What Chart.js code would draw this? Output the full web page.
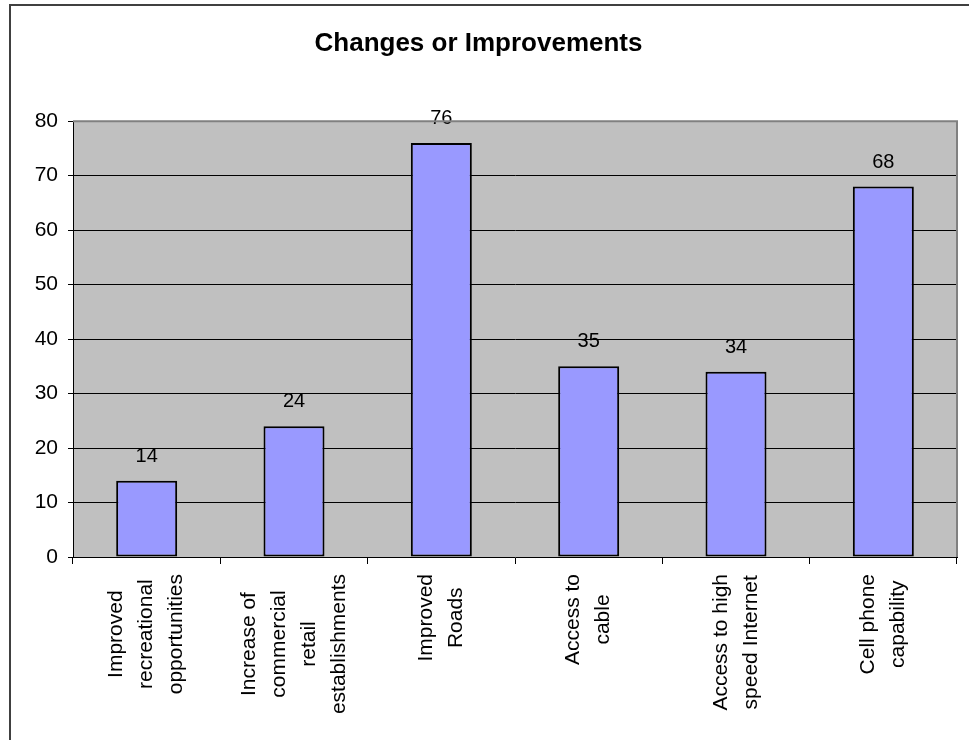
<!DOCTYPE html>
<html>
<head>
<meta charset="utf-8">
<script src="https://cdn.jsdelivr.net/npm/chart.js@4"></script>
<style>
  html, body { margin: 0; padding: 0; background: #fff; }
  #wrap { position: relative; width: 969px; height: 740px; }
</style>
</head>
<body>
<div id="wrap"><canvas id="myChart" width="969" height="740"></canvas></div>
<script>
// Data
const categories = [
    ['Improved', 'recreational', 'opportunities'],
    ['Increase of', 'commercial', 'retail', 'establishments'],
    ['Improved', 'Roads'],
    ['Access to', 'cable'],
    ['Access to high', 'speed Internet'],
    ['Cell phone', 'capability']
];
const values = [14, 24, 76, 35, 34, 68];
const yTicks = { min: 0, max: 80, step: 10 };

const FONT = "'Liberation Sans', Arial, sans-serif";

// outer frame + grey plot background
const framePlugin = {
    id: 'frame',
    beforeDraw(chart) {
        const c = chart.ctx;
        const a = chart.chartArea;
        c.save();
        c.fillStyle = '#fff';
        c.fillRect(0, 0, chart.width, chart.height);
        c.strokeStyle = '#404040';
        c.lineWidth = 2;
        c.beginPath();
        c.moveTo(10, chart.height);
        c.lineTo(10, 5);
        c.lineTo(chart.width, 5);
        c.stroke();
        c.fillStyle = '#c0c0c0';
        c.fillRect(a.left, a.top, a.right - a.left, a.bottom - a.top);
        c.restore();
    },
    afterDraw(chart) {
        const c = chart.ctx;
        const a = chart.chartArea;
        c.save();
        c.strokeStyle = '#808080';
        c.lineWidth = 2;
        c.beginPath();
        c.moveTo(a.left, a.top);
        c.lineTo(a.right, a.top);
        c.lineTo(a.right, a.bottom);
        c.stroke();
        c.restore();
    }
};

// value labels above bars
const valueLabels = {
    id: 'valueLabels',
    afterDatasetsDraw(chart) {
        const c = chart.ctx;
        const meta = chart.getDatasetMeta(0);
        c.save();
        c.font = '20px ' + FONT;
        c.fillStyle = '#000';
        c.textAlign = 'center';
        c.textBaseline = 'alphabetic';
        meta.data.forEach((bar, i) => {
            c.fillText(String(values[i]), bar.x, bar.y - 19);
        });
        c.restore();
    }
};

// rotated, centred multi-line category labels
const catLabels = {
    id: 'catLabels',
    afterDraw(chart) {
        const c = chart.ctx;
        const xs = chart.scales.x;
        const lineH = 30;
        c.save();
        c.font = '21px ' + FONT;
        c.fillStyle = '#000';
        c.textAlign = 'center';
        c.textBaseline = 'middle';
        categories.forEach((lines, i) => {
            const cx = xs.getPixelForValue(i);
            const maxW = Math.max(...lines.map(l => c.measureText(l).width));
            const cy = xs.top + 17 + maxW / 2;
            lines.forEach((line, j) => {
                const x = cx + (j - (lines.length - 1) / 2) * lineH;
                c.save();
                c.translate(x, cy);
                c.rotate(-Math.PI / 2);
                c.fillText(line, 0, 0);
                c.restore();
            });
        });
        c.restore();
    }
};

const ctx = document.getElementById('myChart').getContext('2d');
new Chart(ctx, {
    type: 'bar',
    data: {
        labels: categories.map(l => l.join(' ')),
        datasets: [{
            data: values,
            backgroundColor: '#9999ff',
            borderColor: '#000',
            borderWidth: 2,
            borderSkipped: false,
            barPercentage: 0.414,
            categoryPercentage: 1
        }]
    },
    options: {
        responsive: false,
        animation: false,
        events: [],
        layout: { padding: { left: 0, right: 12, top: 0, bottom: 0 } },
        plugins: {
            legend: { display: false },
            tooltip: { enabled: false },
            title: {
                display: true,
                text: 'Changes or Improvements',
                color: '#000',
                font: { family: FONT, size: 26, weight: 'bold' },
                padding: { top: 28, bottom: 62 }
            }
        },
        scales: {
            x: {
                afterFit(scale) { scale.height = 183; },
                grid: {
                    offset: true,
                    drawOnChartArea: false,
                    drawTicks: true,
                    tickLength: 7,
                    tickColor: '#000'
                },
                border: { color: '#000', width: 1 },
                ticks: { display: false }
            },
            y: {
                min: yTicks.min,
                max: yTicks.max,
                afterFit(scale) { scale.width = 73; },
                grid: {
                    color: c => (c.tick.value === yTicks.min || c.tick.value === yTicks.max) ? 'rgba(0,0,0,0)' : '#000',
                    lineWidth: 1,
                    tickLength: 5,
                    tickColor: '#000'
                },
                border: { color: '#000', width: 1 },
                ticks: {
                    stepSize: yTicks.step,
                    color: '#000',
                    padding: 10,
                    font: { family: FONT, size: 21 }
                }
            }
        }
    },
    plugins: [framePlugin, valueLabels, catLabels]
});
</script>
</body>
</html>
